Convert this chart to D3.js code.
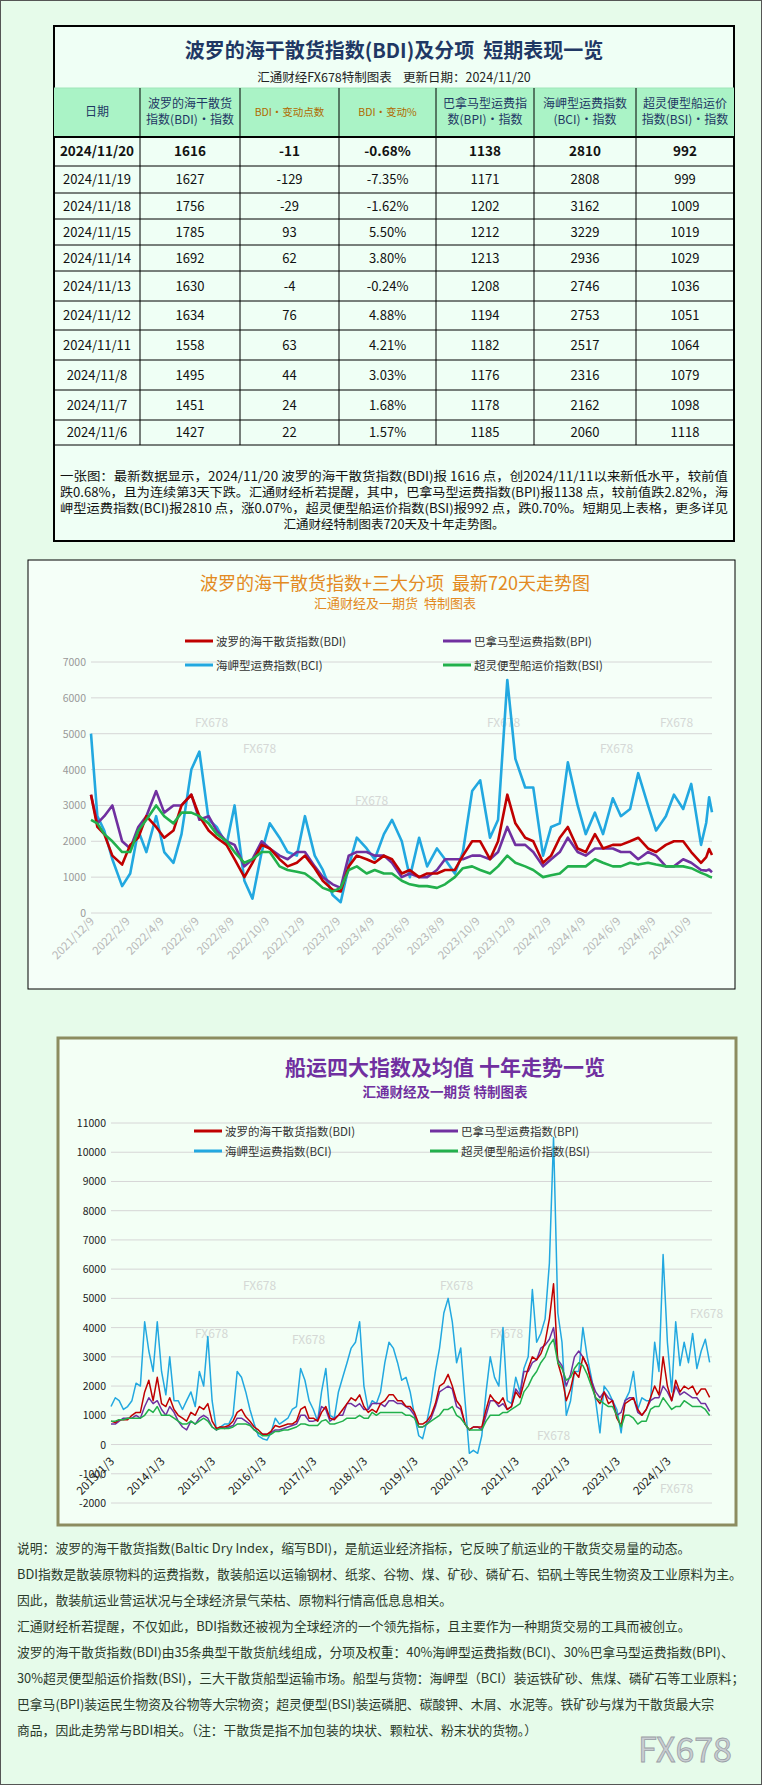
<!DOCTYPE html>
<html>
<head>
<meta charset="utf-8">
<script src="https://cdn.jsdelivr.net/npm/d3@7/dist/d3.min.js"></script>
<style>
  body { margin: 0; background: #e6fbea; }
  svg text { font-family: "Noto Sans CJK SC", "DejaVu Sans", sans-serif; white-space: pre; }
</style>
</head>
<body>
<svg id="page" width="762" height="1785"></svg>
<script>
// =============================================================================
// DATA
// =============================================================================

const tableHeaders = ["日期", "波罗的海干散货|指数(BDI)・指数", "BDI・变动点数", "BDI・变动%",
  "巴拿马型运费指|数(BPI)・指数", "海岬型运费指数|(BCI)・指数", "超灵便型船运价|指数(BSI)・指数"];
const tableDates = ["2024/11/20", "2024/11/19", "2024/11/18", "2024/11/15", "2024/11/14", "2024/11/13",
  "2024/11/12", "2024/11/11", "2024/11/8", "2024/11/7", "2024/11/6"];
const tableBDI = [1616, 1627, 1756, 1785, 1692, 1630, 1634, 1558, 1495, 1451, 1427];
const tableChg = [-11, -129, -29, 93, 62, -4, 76, 63, 44, 24, 22];
const tablePct = ["-0.68%", "-7.35%", "-1.62%", "5.50%", "3.80%", "-0.24%", "4.88%", "4.21%", "3.03%", "1.68%", "1.57%"];
const tableBPI = [1138, 1171, 1202, 1212, 1213, 1208, 1194, 1182, 1176, 1178, 1185];
const tableBCI = [2810, 2808, 3162, 3229, 2936, 2746, 2753, 2517, 2316, 2162, 2060];
const tableBSI = [992, 999, 1009, 1019, 1029, 1036, 1051, 1064, 1079, 1098, 1118];

const tableNote = [
  "一张图：最新数据显示，2024/11/20 波罗的海干散货指数(BDI)报 1616 点，创2024/11/11以来新低水平，较前值",
  "跌0.68%，且为连续第3天下跌。汇通财经析若提醒，其中，巴拿马型运费指数(BPI)报1138 点，较前值跌2.82%，海",
  "岬型运费指数(BCI)报2810 点，涨0.07%，超灵便型船运价指数(BSI)报992 点，跌0.70%。短期见上表格，更多详见",
  "汇通财经特制图表720天及十年走势图。"
];

// 720-day chart: half-monthly samples
const days720 = ["2021-12-09", "2021-12-20"];
for (let y = 2022; y <= 2024; y++) {
  for (let m = 1; m <= 12; m++) {
    if (y === 2024 && m > 10) break;
    const mm = String(m).padStart(2, "0");
    days720.push(`${y}-${mm}-01`, `${y}-${mm}-15`);
  }
}
days720.push("2024-11-01", "2024-11-10", "2024-11-15", "2024-11-20");

const bci720 = [5000,2700, 2300,1500, 750,1100, 2300,1700, 2700,1700, 1400,2200, 4000,4500, 2600,2400, 1900,3000, 900,400, 1700,2500, 2100,1700, 1600,2700,
  1600,1200, 500,300, 1300,2100, 1800,1500, 2200,2600, 2000,1000, 2100,1300, 1800,1500, 1100,1700, 3400,3700, 2100,2600, 6500,4300,
  3500,3500, 1600,2400, 2500,4200, 3000,2200, 2800,2200, 3200,2700, 2900,3900, 3000,2300, 2700,3300, 2900,3600, 1900,2517,3229,2810];
const bdi720 = [3300,2400, 2200,1600, 1350,1900, 2100,2700, 2400,2100, 2300,3000, 3300,2700, 2300,2100, 1900,1500, 1000,1400, 1900,1800, 1500,1300, 1400,1600,
  1250,900, 650,600, 1300,1600, 1500,1400, 1600,1500, 1100,1200, 1000,1100, 1100,1200, 1200,1600, 2000,2000, 1500,2000, 3300,2500,
  2100,2000, 1400,1600, 2100,2400, 1800,1700, 2200,1800, 1900,1900, 2000,2100, 1800,1700, 1900,2000, 2000,1700, 1400,1558,1785,1616];
const bpi720 = [3300,2500, 2700,3000, 2000,1800, 2400,2700, 3400,2800, 3000,3000, 3300,2600, 2700,2300, 2000,1900, 1300,1500, 2000,1800, 1600,1500, 1700,1700,
  1300,1000, 800,700, 1600,1700, 1700,1600, 1600,1400, 1000,1100, 1000,1000, 1200,1500, 1500,1500, 1600,1600, 1500,1700, 2400,1900,
  1900,1700, 1300,1500, 1700,2100, 1700,1600, 1800,1800, 1800,1700, 1700,1500, 1700,1600, 1300,1300, 1500,1400, 1200,1182,1212,1138];
const bsi720 = [2600,2500, 2200,2000, 1700,1700, 2300,2600, 3000,2700, 2500,2800, 2800,2700, 2500,2200, 2000,1700, 1400,1500, 1700,1700, 1300,1200, 1150,1100,
  900,700, 600,700, 1200,1300, 1100,1200, 1100,1100, 900,800, 750,750, 700,800, 1000,1250, 1300,1200, 1100,1300, 1600,1400,
  1300,1200, 1000,1050, 1100,1300, 1300,1300, 1500,1400, 1300,1300, 1400,1350, 1400,1350, 1300,1300, 1300,1250, 1120,1064,1019,992];
const ticks720 = ["2021/12/9","2022/2/9","2022/4/9","2022/6/9","2022/8/9","2022/10/9","2022/12/9","2023/2/9","2023/4/9",
  "2023/6/9","2023/8/9","2023/10/9","2023/12/9","2024/2/9","2024/4/9","2024/6/9","2024/8/9","2024/10/9"];

// ten-year chart: monthly samples
const months10 = [];
for (let y = 2013; y <= 2024; y++) {
  for (let m = 1; m <= 12; m++) {
    if (y === 2024 && m > 11) break;
    months10.push(`${y}-${String(m).padStart(2, "0")}-03`);
  }
}
const bci10 = [1300,1600,1500,1200,1300,1500,2100,2000,4200,3200,2500,4200,
  2500,1700,3000,1500,1500,1200,1500,1800,1300,2500,2000,3700,
  1500,500,600,700,700,1000,2500,2300,1800,1200,700,300,
  200,150,400,900,700,800,900,1200,1300,2600,2200,1500,
  1200,800,1800,2600,1000,900,1800,2300,2800,3300,3500,4200,
  2000,1200,1500,1400,1800,2800,3500,3300,2800,2200,2300,1800,
  1000,300,200,800,1500,2500,3300,4500,5000,4200,2800,3300,
  1500,-300,-200,-300,300,1800,3000,2300,2000,4000,1500,1400,
  2300,1800,2600,3000,5300,3500,3800,4300,6200,10500,4500,3500,
  1000,1500,2500,2500,4000,3000,2300,1500,400,2000,1800,1500,
  1200,400,1500,1800,2500,1200,1600,1500,1500,3500,2500,6500,
  3500,1800,4200,2700,3500,2800,3800,2600,3200,3600,2810];
const bdi10 = [800,750,850,850,850,1000,1100,1100,1800,2200,1500,2300,
  1400,1300,1600,1200,1000,900,800,1100,1000,1300,1200,1400,
  800,550,600,600,650,800,1100,1200,950,800,600,500,
  350,350,450,650,600,650,700,700,800,1200,1300,900,
  900,800,1100,1300,900,850,1000,1200,1400,1600,1500,1700,
  1300,1100,1200,1100,1400,1500,1700,1700,1500,1500,1300,1300,
  1100,700,700,800,1000,1400,2000,2100,2400,2000,1500,1300,
  700,500,600,600,600,1200,1700,1500,1400,1600,1200,1300,
  1800,1600,2100,2600,3000,2900,3100,3500,4300,5500,2800,2300,
  1500,1900,2500,2300,3000,2700,2100,1600,1400,1800,1400,1500,
  900,650,1400,1500,1600,1200,1000,1200,1600,2000,1700,3000,
  2000,1500,2200,1800,2000,1900,2000,1700,1900,1900,1616];
const bpi10 = [700,700,800,900,900,900,1000,900,1300,1600,1400,1500,
  1200,1000,1300,1100,800,600,500,800,700,900,1000,900,
  600,500,600,550,600,650,900,900,800,700,500,400,
  350,350,400,500,500,550,600,650,700,1000,1000,800,
  800,850,1300,1200,800,900,1000,1000,1400,1400,1300,1400,
  1200,1200,1400,1400,1400,1300,1500,1500,1400,1400,1300,1200,
  1000,600,600,700,900,1300,1800,1900,2000,1900,1300,1200,
  700,500,600,600,500,1000,1500,1500,1300,1400,1200,1300,
  1900,1700,2500,2500,2800,2900,3300,3400,3600,4000,2900,2700,
  2000,2400,3000,3200,3000,2700,2200,1800,1600,1800,1600,1500,
  1000,1100,1500,1600,1600,1100,1000,1200,1500,1600,1600,2000,
  1800,1500,2000,1700,1800,1700,1600,1600,1400,1400,1138];
const bsi10 = [800,800,850,850,900,900,900,900,1000,1200,1100,1300,
  1000,1000,1000,900,800,700,700,800,700,800,900,800,
  600,500,550,550,550,600,700,700,700,650,500,400,
  300,300,350,450,450,500,500,550,600,700,700,650,
  650,650,800,850,700,700,750,800,900,900,900,1000,
  900,900,1100,1000,1100,1100,1100,1100,1100,1100,1000,1000,
  900,600,600,700,800,900,1000,1200,1200,1300,1000,900,
  700,500,500,500,500,800,1000,1000,1000,1100,1100,1200,
  1300,1400,1800,2000,2300,2500,2800,3000,3400,3600,2800,2600,
  2200,2300,2600,2800,2700,2400,2000,1600,1500,1400,1300,1300,
  1000,600,1000,1000,900,700,800,800,1200,1300,1300,1600,
  1400,1200,1300,1300,1500,1400,1300,1300,1300,1200,992];
const ticks10 = ["2013/1/3","2014/1/3","2015/1/3","2016/1/3","2017/1/3","2018/1/3","2019/1/3",
  "2020/1/3","2021/1/3","2022/1/3","2023/1/3","2024/1/3"];

const seriesNames = ["波罗的海干散货指数(BDI)", "巴拿马型运费指数(BPI)", "海岬型运费指数(BCI)", "超灵便型船运价指数(BSI)"];
const seriesColors = ["#c00000", "#7030a0", "#22a8e0", "#22b04c"];

const footNote = [
  "说明：波罗的海干散货指数(Baltic Dry Index，缩写BDI)，是航运业经济指标，它反映了航运业的干散货交易量的动态。",
  "BDI指数是散装原物料的运费指数，散装船运以运输钢材、纸浆、谷物、煤、矿砂、磷矿石、铝矾土等民生物资及工业原料为主。",
  "因此，散装航运业营运状况与全球经济景气荣枯、原物料行情高低息息相关。",
  "汇通财经析若提醒，不仅如此，BDI指数还被视为全球经济的一个领先指标，且主要作为一种期货交易的工具而被创立。",
  "波罗的海干散货指数(BDI)由35条典型干散货航线组成，分项及权重：40%海岬型运费指数(BCI)、30%巴拿马型运费指数(BPI)、",
  "30%超灵便型船运价指数(BSI)，三大干散货船型运输市场。船型与货物：海岬型（BCI）装运铁矿砂、焦煤、磷矿石等工业原料；",
  "巴拿马(BPI)装运民生物资及谷物等大宗物资；超灵便型(BSI)装运磷肥、碳酸钾、木屑、水泥等。铁矿砂与煤为干散货最大宗",
  "商品，因此走势常与BDI相关。（注：干散货是指不加包装的块状、颗粒状、粉末状的货物。）"
];

// =============================================================================
// TABLE
// =============================================================================

const svg = d3.select("#page");
const mono = "'Liberation Mono', 'Noto Sans CJK SC', monospace";

const tb = { x: 54, y: 26, w: 680, h: 515 };
const colX = [54, 140, 240, 339, 436, 534, 636, 734];
const rowY = [137, 166, 193, 219, 245, 271, 301, 330, 360, 390, 420, 445];

svg.append("rect").attr("x", tb.x).attr("y", tb.y).attr("width", tb.w).attr("height", tb.h)
  .attr("fill", "#effff5").attr("stroke", "#000").attr("stroke-width", 2);

svg.append("text").attr("x", 394).attr("y", 58).attr("text-anchor", "middle")
  .attr("font-size", 20).attr("font-weight", "bold").attr("fill", "#1f3864")
  .attr("font-family", "'Noto Sans CJK SC', serif").text("波罗的海干散货指数(BDI)及分项  短期表现一览");
svg.append("text").attr("x", 394).attr("y", 82).attr("text-anchor", "middle")
  .attr("font-size", 12.5).attr("fill", "#222").attr("font-family", mono)
  .text("汇通财经FX678特制图表    更新日期：2024/11/20");

// header
svg.append("rect").attr("x", 54).attr("y", 88).attr("width", 680).attr("height", 49).attr("fill", "#aaf3c6");
tableHeaders.forEach((h, i) => {
  const cx = (colX[i] + colX[i + 1]) / 2;
  const parts = h.split("|");
  const col = (i === 2 || i === 3) ? "#b06a00" : "#1f3864";
  parts.forEach((p, j) => {
    svg.append("text").attr("x", cx).attr("y", 112 + (j - (parts.length - 1) / 2) * 16 + 4)
      .attr("text-anchor", "middle").attr("font-size", (i === 2 || i === 3) ? 10.5 : 12)
      .attr("fill", col).attr("font-family", mono).text(p);
  });
});

// rows
const rows = tableDates.map((d, i) => [d, tableBDI[i], tableChg[i], tablePct[i], tableBPI[i], tableBCI[i], tableBSI[i]]);
rows.forEach((r, i) => {
  const cy = (rowY[i] + rowY[i + 1]) / 2 + 4.5;
  r.forEach((v, j) => {
    svg.append("text").attr("x", (colX[j] + colX[j + 1]) / 2).attr("y", cy)
      .attr("text-anchor", "middle").attr("font-size", i === 0 ? 13.5 : 13)
      .attr("font-weight", i === 0 ? "bold" : "normal").attr("fill", "#111")
      .attr("font-family", mono).text(v);
  });
});
// grid
rowY.forEach(y => svg.append("line").attr("x1", 54).attr("x2", 734).attr("y1", y).attr("y2", y)
  .attr("stroke", "#000").attr("stroke-width", y === 137 ? 2 : 1));
svg.append("line").attr("x1", 54).attr("x2", 734).attr("y1", 88).attr("y2", 88).attr("stroke", "#9ee6b8");
colX.slice(1, -1).forEach(x => svg.append("line").attr("x1", x).attr("x2", x).attr("y1", 88).attr("y2", 445)
  .attr("stroke", "#000").attr("stroke-width", 1));

tableNote.forEach((t, i) => {
  const s = svg.append("text").attr("y", 481 + i * 16).attr("font-size", 12.5).attr("fill", "#111")
    .attr("font-family", mono).text(t);
  if (i < 3) s.attr("x", 60).attr("textLength", 668).attr("lengthAdjust", "spacingAndGlyphs");
  else s.attr("x", 394).attr("text-anchor", "middle");
});

// =============================================================================
// LINE CHART HELPER
// =============================================================================

function drawChart(o) {
  const g = svg.append("g");
  const x = d3.scaleTime().domain(o.xDomain).range([o.left, o.right]);
  const y = d3.scaleLinear().domain(o.yDomain).range([o.bottom, o.top]);

  g.selectAll(".grid").data(o.yTicks).join("line")
    .attr("x1", o.left).attr("x2", o.right).attr("y1", d => y(d)).attr("y2", d => y(d))
    .attr("stroke", "#d6d6d6").attr("stroke-width", 1);
  g.selectAll(".yl").data(o.yTicks).join("text")
    .attr("x", o.left - 5).attr("y", d => y(d) + 4).attr("text-anchor", "end")
    .attr("font-size", 10.5).attr("fill", o.yColor).attr("font-family", "'Liberation Sans', sans-serif")
    .text(d => d);

  o.tickLabels.forEach(t => {
    const p = t.split("/");
    const tx = x(new Date(+p[0], +p[1] - 1, +p[2]));
    g.append("text").attr("transform", `translate(${tx + 4},${o.labelY}) rotate(-45)`)
      .attr("text-anchor", "end").attr("font-size", 11.5).attr("fill", o.xColor)
      .attr("font-family", "'Liberation Sans', sans-serif").text(t);
  });

  // watermarks
  o.marks.forEach(m => g.append("text").attr("x", m[0]).attr("y", m[1]).attr("font-size", 12)
    .attr("fill", "#c8c8c8").attr("opacity", 0.7).text("FX678"));

  const line = d3.line().x(d => x(d[0])).y(d => y(d[1])).curve(d3.curveLinear);
  const order = [2, 1, 0, 3];
  order.forEach(k => {
    const pts = o.dates.map((d, i) => [new Date(d), o.series[k][i]]);
    g.append("path").datum(pts).attr("d", line).attr("fill", "none")
      .attr("stroke", seriesColors[k]).attr("stroke-width", o.lw).attr("stroke-linejoin", "round");
  });

  // legend
  [0, 1, 2, 3].forEach((k, i) => {
    const lx = o.legX[i % 2], ly = o.legY[Math.floor(i / 2)];
    g.append("line").attr("x1", lx).attr("x2", lx + 28).attr("y1", ly).attr("y2", ly)
      .attr("stroke", seriesColors[k]).attr("stroke-width", 3);
    g.append("text").attr("x", lx + 31).attr("y", ly + 4.5).attr("font-size", 11.5)
      .attr("fill", "#333").text(seriesNames[k]);
  });
}

// =============================================================================
// CHART 1: 720 days
// =============================================================================

svg.append("rect").attr("x", 28).attr("y", 560).attr("width", 707).attr("height", 429)
  .attr("fill", "#f5fff8").attr("stroke", "#000").attr("stroke-width", 1);
svg.append("text").attr("x", 395).attr("y", 590).attr("text-anchor", "middle").attr("font-size", 18)
  .attr("fill", "#e38a22").text("波罗的海干散货指数+三大分项  最新720天走势图");
svg.append("text").attr("x", 395).attr("y", 608).attr("text-anchor", "middle").attr("font-size", 13)
  .attr("fill", "#e38a22").text("汇通财经及一期货  特制图表");

drawChart({
  xDomain: [new Date(2021, 11, 9), new Date(2024, 10, 20)],
  yDomain: [0, 7000], yTicks: d3.range(0, 7001, 1000),
  left: 91, right: 712, top: 662, bottom: 913,
  dates: days720, series: [bdi720, bpi720, bci720, bsi720], lw: 2.6,
  tickLabels: ticks720, labelY: 922, xColor: "#b8b8b8", yColor: "#999",
  legX: [185, 443], legY: [641, 665],
  marks: [[195, 727], [243, 753], [355, 805], [487, 727], [600, 753], [660, 727]]
});

// =============================================================================
// CHART 2: ten years
// =============================================================================

svg.append("rect").attr("x", 58).attr("y", 1038).attr("width", 678).attr("height", 487)
  .attr("fill", "#f3fff5").attr("stroke", "#8c8c60").attr("stroke-width", 3);
svg.append("text").attr("x", 445).attr("y", 1075).attr("text-anchor", "middle").attr("font-size", 21)
  .attr("font-weight", "bold").attr("fill", "#7030a0").attr("font-family", "'Noto Sans CJK SC', serif")
  .text("船运四大指数及均值 十年走势一览");
svg.append("text").attr("x", 445).attr("y", 1097).attr("text-anchor", "middle").attr("font-size", 13.5)
  .attr("font-weight", "bold").attr("fill", "#7030a0").text("汇通财经及一期货 特制图表");

drawChart({
  xDomain: [new Date(2013, 0, 3), new Date(2024, 10, 20)],
  yDomain: [-2000, 11000], yTicks: d3.range(-2000, 11001, 1000),
  left: 111, right: 712, top: 1123, bottom: 1503,
  dates: months10, series: [bdi10, bpi10, bci10, bsi10], lw: 1.5,
  tickLabels: ticks10, labelY: 1462, xColor: "#222", yColor: "#222",
  legX: [194, 430], legY: [1131, 1151],
  marks: [[243, 1290], [195, 1338], [292, 1344], [440, 1290], [490, 1338], [537, 1440], [690, 1318], [660, 1493]]
});

// =============================================================================
// FOOTNOTE
// =============================================================================

footNote.forEach((t, i) => {
  svg.append("text").attr("x", 17).attr("y", 1553 + i * 26).attr("font-size", 12.8)
    .attr("fill", "#2a3a2a").attr("font-family", mono).text(t);
});
svg.append("text").attr("x", 732).attr("y", 1762).attr("text-anchor", "end").attr("font-size", 34)
  .attr("fill", "#c9cdd2").attr("stroke", "#9aa0a6").attr("stroke-width", 0.8)
  .attr("font-family", "'DejaVu Sans', sans-serif").text("FX678");
svg.append("rect").attr("x", 0.5).attr("y", 0.5).attr("width", 761).attr("height", 1784)
  .attr("fill", "none").attr("stroke", "#555").attr("stroke-width", 1);
</script>
</body>
</html>
